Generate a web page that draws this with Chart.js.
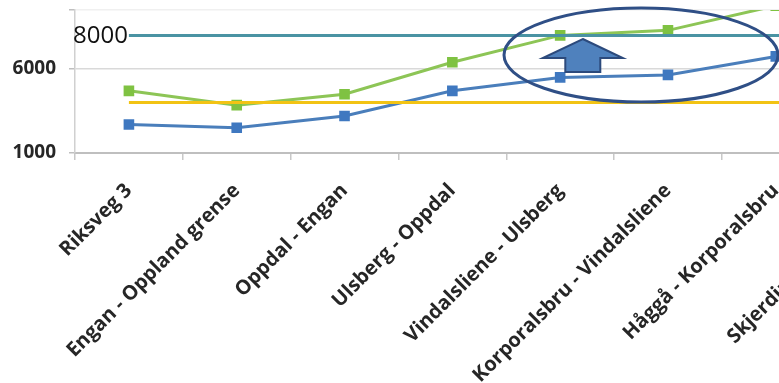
<!DOCTYPE html>
<html>
<head>
<meta charset="utf-8">
<script src="https://cdn.jsdelivr.net/npm/chart.js@4/dist/chart.umd.min.js"></script>
<style>
  html, body { margin: 0; padding: 0; background: #fff; overflow: hidden; }
  #wrap { width: 779px; height: 383px; overflow: hidden; position: relative; }
</style>
</head>
<body>
<div id="wrap">
  <canvas id="myChart" width="945" height="383"></canvas>
</div>
<script>
// strekninger langs vegen (den siste er kuttet i bildet)
const labels = [
  "Riksveg 3",
  "Engan - Oppland grense",
  "Oppdal - Engan",
  "Ulsberg - Oppdal",
  "Vindalsliene - Ulsberg",
  "Korporalsbru - Vindalsliene",
  "Håggå - Korporalsbru",
  "Skjerdingstad - Håggå"
];

const blueValues = [2700, 2500, 3200, 4700, 5500, 5650, 6750];
const greenValues = [4700, 3850, 4500, 6400, 8000, 8300, 9770];
const yellowValues = [4000, 4000, 4000, 4000, 4000, 4000, 4000, 4000];
const tealValues = [8000, 8000, 8000, 8000, 8000, 8000, 8000, 8000];

const yTicks = [1000, 6000];
const yMin = 1000;
const yMax = 9512;

// ellipse + arrow, anchored in data units
const marks = {
  ellipse: { x: 4.75, y: 6830, rx: 137, ry: 47 },
  arrow: { x: 4.21, y: 7786, head: 19, headHalf: 40, shaftHalf: 17.5, shaftLen: 14 }
};

const overlay = {
  id: "overlay",
  afterDatasetsDraw(chart) {
    const ctx = chart.ctx;
    const xs = chart.scales.x, ys = chart.scales.y;

    // 8000 label at start of the teal line
    ctx.save();
    ctx.font = "24px 'Open Sans'";
    ctx.fillStyle = "#111";
    ctx.textAlign = "right";
    ctx.textBaseline = "middle";
    ctx.fillText("8000", xs.getPixelForValue(0) - 1, ys.getPixelForValue(tealValues[0]) + 1);
    ctx.restore();

    // arrow
    const a = marks.arrow;
    const ax = xs.getPixelForValue(a.x), ay = ys.getPixelForValue(a.y);
    ctx.save();
    ctx.beginPath();
    ctx.moveTo(ax, ay);
    ctx.lineTo(ax + a.headHalf, ay + a.head);
    ctx.lineTo(ax + a.shaftHalf, ay + a.head);
    ctx.lineTo(ax + a.shaftHalf, ay + a.head + a.shaftLen);
    ctx.lineTo(ax - a.shaftHalf, ay + a.head + a.shaftLen);
    ctx.lineTo(ax - a.shaftHalf, ay + a.head);
    ctx.lineTo(ax - a.headHalf, ay + a.head);
    ctx.closePath();
    ctx.fillStyle = "#4f81bd";
    ctx.fill();
    ctx.lineWidth = 2;
    ctx.strokeStyle = "#2c4a7c";
    ctx.stroke();
    ctx.restore();

    // ellipse
    const e = marks.ellipse;
    ctx.save();
    ctx.beginPath();
    ctx.ellipse(xs.getPixelForValue(e.x), ys.getPixelForValue(e.y), e.rx, e.ry, 0, 0, Math.PI * 2);
    ctx.lineWidth = 3;
    ctx.strokeStyle = "#2f4f86";
    ctx.stroke();
    ctx.restore();
  }
};

new Chart("myChart", {
  type: "line",
  data: {
    labels: labels,
    datasets: [
      {
        data: tealValues,
        borderColor: "#4a93a3",
        borderWidth: 3,
        pointRadius: 0,
        tension: 0
      },
      {
        data: yellowValues,
        borderColor: "#f2c314",
        borderWidth: 3,
        pointRadius: 0,
        tension: 0
      },
      {
        data: greenValues,
        borderColor: "#8dc556",
        backgroundColor: "#7fc242",
        borderWidth: 3,
        pointStyle: "rect",
        pointRadius: 7.5,
        pointBorderWidth: 0,
        tension: 0
      },
      {
        data: blueValues,
        borderColor: "#4a7ebb",
        backgroundColor: "#3f78c0",
        borderWidth: 3,
        pointStyle: "rect",
        pointRadius: 7.5,
        pointBorderWidth: 0,
        tension: 0
      }
    ]
  },
  options: {
    responsive: false,
    animation: false,
    layout: { padding: { top: 10, right: 0, left: 0, bottom: 0 } },
    plugins: {
      legend: { display: false },
      tooltip: { enabled: false }
    },
    scales: {
      x: {
        offset: true,
        grid: {
          offset: true,
          drawOnChartArea: false,
          drawTicks: true,
          tickLength: 7,
          color: "#c8c8c8",
          lineWidth: 1.5
        },
        border: { color: "#bfbfbf", width: 2 },
        ticks: {
          autoSkip: false,
          maxRotation: 45,
          minRotation: 45,
          padding: 19,
          color: "#262626",
          font: { family: "'Open Sans'", weight: "bold", size: 20 }
        },
        afterFit(axis) {
          axis.height = 230;
          axis.paddingLeft = 0;
          axis.paddingRight = 0;
        }
      },
      y: {
        min: yMin,
        max: yMax,
        afterBuildTicks(axis) {
          axis.ticks = yTicks.concat([yMax]).map(v => ({ value: v }));
        },
        grid: {
          color: (c) => c.tick && c.tick.value === yMax ? "#f0f0f0" : "#d9d9d9",
          lineWidth: 1.5,
          tickLength: 6,
          tickColor: "#bfbfbf"
        },
        border: { color: "#d0d0d0", width: 1.5 },
        ticks: {
          padding: 13,
          color: "#262626",
          font: { family: "'Open Sans'", weight: "bold", size: 19 },
          callback: (v) => v === yMax ? "" : String(v)
        },
        afterFit(axis) {
          axis.width = 75;
          axis.paddingTop = 0;
          axis.paddingBottom = 0;
        }
      }
    }
  },
  plugins: [overlay]
});
</script>
</body>
</html>
